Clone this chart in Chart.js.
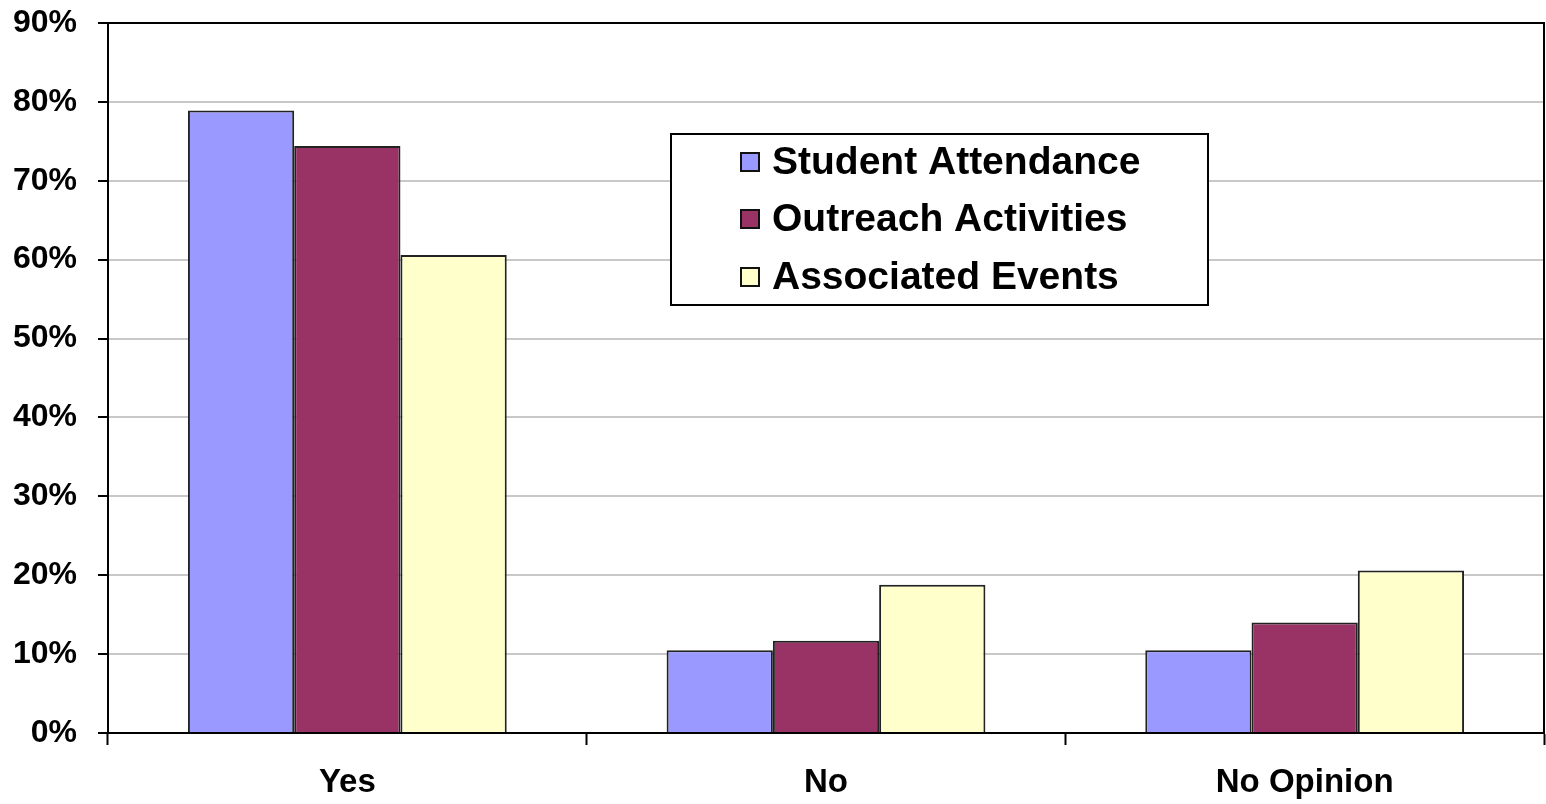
<!DOCTYPE html>
<html>
<head>
<meta charset="utf-8">
<script src="https://cdn.jsdelivr.net/npm/chart.js@4/dist/chart.umd.min.js"></script>
<style>
  html, body { margin: 0; padding: 0; background: #fff; }
  #wrap { width: 1546px; height: 804px; position: relative; }
</style>
</head>
<body>
<div id="wrap"><canvas id="c" width="1546" height="804"></canvas></div>
<script>
const categories = ["Yes", "No", "No Opinion"];
const seriesNames = ["Student Attendance", "Outreach Activities", "Associated Events"];
const studentAttendance = [78.9, 10.5, 10.5];
const outreachActivities = [74.4, 11.7, 14.0];
const associatedEvents = [60.6, 18.8, 20.6];
const seriesColors = ["#9999FF", "#993366", "#FFFFCC"];
const yTicks = [0, 10, 20, 30, 40, 50, 60, 70, 80, 90];

const FONT = '"Liberation Sans", Arial, sans-serif';

const frameAndLegend = {
  id: 'frameAndLegend',
  afterDraw(chart) {
    const ctx = chart.ctx;
    const a = chart.chartArea;
    ctx.save();
    ctx.strokeStyle = '#000';
    ctx.lineWidth = 2;
    ctx.beginPath();
    ctx.moveTo(a.left, a.top);
    ctx.lineTo(a.right, a.top);
    ctx.lineTo(a.right, a.bottom);
    ctx.stroke();

    const bx = 671, by = 134, bw = 537, bh = 171;
    ctx.fillStyle = '#fff';
    ctx.fillRect(bx, by, bw, bh);
    ctx.strokeStyle = '#000';
    ctx.lineWidth = 2;
    ctx.strokeRect(bx, by, bw, bh);
    const ys = [162, 219, 277];
    chart.data.datasets.forEach((ds, i) => {
      const cy = ys[i];
      ctx.fillStyle = ds.backgroundColor;
      ctx.fillRect(741, cy - 9, 18, 18);
      ctx.strokeStyle = '#111';
      ctx.lineWidth = 2;
      ctx.strokeRect(741, cy - 9, 18, 18);
      ctx.fillStyle = '#000';
      ctx.font = 'bold 39px ' + FONT;
      ctx.textBaseline = 'middle';
      ctx.textAlign = 'left';
      ctx.fillText(ds.label, 772, cy + 1);
    });
    ctx.restore();
  }
};

const datasets = [studentAttendance, outreachActivities, associatedEvents].map((vals, i) => ({
  label: seriesNames[i],
  data: vals,
  backgroundColor: seriesColors[i],
  borderColor: '#222',
  borderWidth: 2,
  categoryPercentage: 0.666,
  barPercentage: 1.0
}));

new Chart(document.getElementById('c'), {
  type: 'bar',
  data: { labels: categories, datasets },
  plugins: [frameAndLegend],
  options: {
    responsive: false,
    animation: false,
    devicePixelRatio: 1,
    layout: { padding: { top: 23, right: 2, left: 0, bottom: 0 } },
    plugins: { legend: { display: false }, tooltip: { enabled: false } },
    scales: {
      x: {
        grid: { display: true, drawOnChartArea: false, offset: true, tickLength: 12, tickColor: '#000', tickWidth: 2 },
        border: { display: true, color: '#000', width: 2 },
        ticks: { color: '#000', font: { family: FONT, size: 33, weight: 'bold' }, padding: 18 },
        afterFit(s) { s.height = 71; s.paddingLeft = 0; s.paddingRight = 0; }
      },
      y: {
        min: 0, max: 90,
        afterBuildTicks(s) { s.ticks = yTicks.map(v => ({ value: v })); },
        grid: { color: '#c8c8c8', lineWidth: 2, tickLength: 10, tickColor: '#000', tickWidth: 2 },
        border: { display: true, color: '#000', width: 2 },
        ticks: { color: '#000', font: { family: FONT, size: 32, weight: 'bold' }, padding: 21,
                 callback: v => v + '%' },
        afterFit(s) { s.width = 108; s.paddingTop = 0; s.paddingBottom = 0; }
      }
    }
  }
});
</script>
</body>
</html>
